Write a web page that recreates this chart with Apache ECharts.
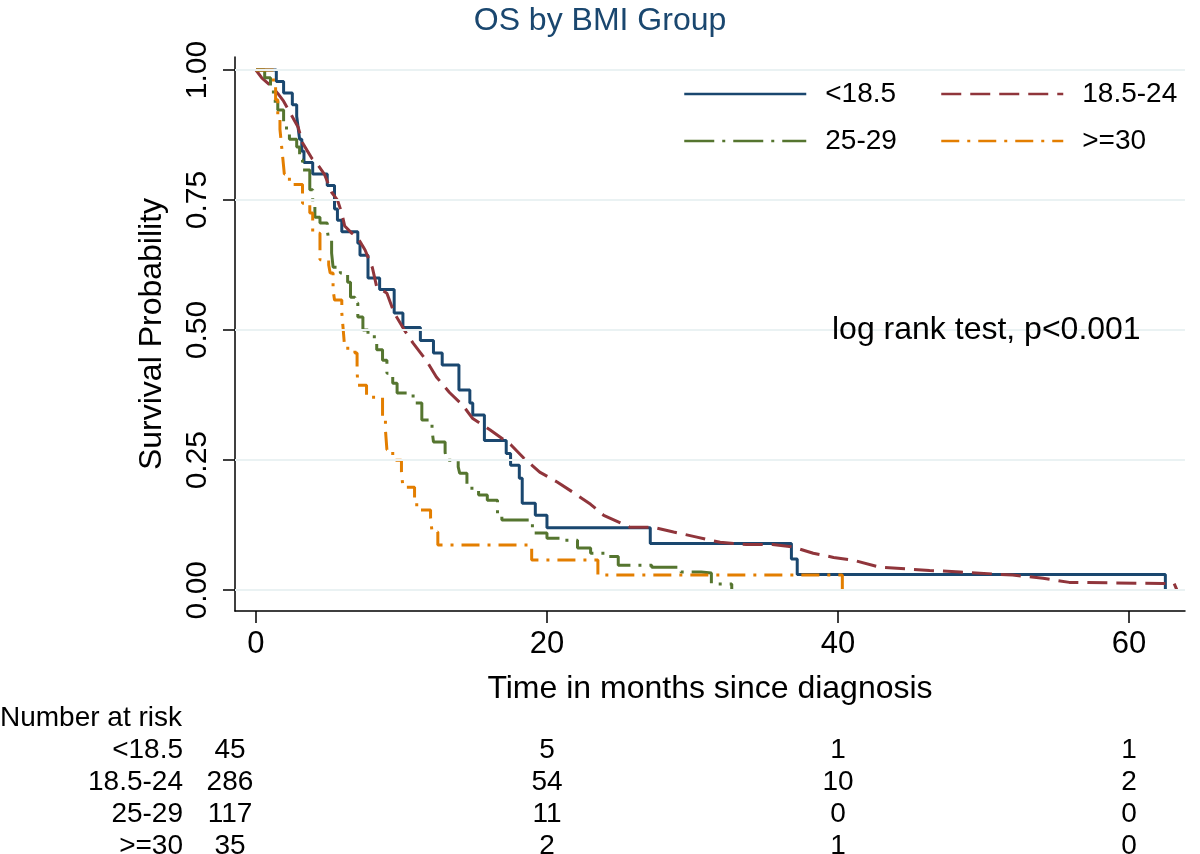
<!DOCTYPE html>
<html>
<head>
<meta charset="utf-8">
<script src="https://cdn.jsdelivr.net/npm/echarts@6/dist/echarts.min.js"></script>
<style>
html, body { margin: 0; padding: 0; background: #fff; }
#main { width: 1200px; height: 854px; }
</style>
</head>
<body>
<div id="main"></div>
<script>
// groups and colours (Stata s2color)
var groups = ['<18.5', '18.5-24', '25-29', '>=30'];
var colors = ['#1a476f', '#90353b', '#55752f', '#e37e00'];

// Kaplan-Meier estimates: time (months) / survival
var t1 = [0, 1.4, 1.9, 2.5, 2.8, 2.9, 3.0, 3.15, 3.3, 3.9, 4.9, 5.4, 5.6, 5.9, 7.0, 7.15, 7.7, 8.5, 9.5, 10.1,
          11.3, 12.2, 12.8, 13.95, 14.7, 14.9, 15.7, 17.2, 17.5, 18.1, 18.3, 19.2, 20.0, 27.1, 36.8, 37.2, 62.5];
var s1 = [1, 0.978, 0.956, 0.933, 0.911, 0.889, 0.867, 0.844, 0.822, 0.80, 0.778, 0.733, 0.711, 0.689, 0.667, 0.644, 0.60, 0.578, 0.533, 0.505,
          0.48, 0.456, 0.433, 0.385, 0.36, 0.337, 0.288, 0.263, 0.24, 0.215, 0.167, 0.144, 0.12, 0.09, 0.06, 0.03, 0];

var t2 = [0, 0.4, 1.0, 1.5, 1.9, 2.5, 2.9, 3.2, 3.5, 3.85, 4.2, 4.7, 5.2, 5.6, 5.9, 6.1, 6.6, 7.0, 7.5, 8.0,
          8.3, 9.0, 9.5, 10.2, 10.8, 11.7, 12.4, 13.3, 14.2, 14.9, 16.1, 17.5, 18.4, 19.5, 20.7, 21.8, 23.0, 23.9, 25.7, 27.3,
          28.7, 30.3, 31.9, 33.7, 35.5, 36.9, 38.3, 39.7, 41.0, 42.9, 46.3, 48.4, 52.0, 54.1, 55.9, 62.3, 63.1, 63.3];
var s2 = [1, 0.985, 0.97, 0.955, 0.94, 0.91, 0.89, 0.86, 0.846, 0.83, 0.82, 0.80, 0.765, 0.75, 0.725, 0.70, 0.686, 0.677, 0.654, 0.62,
          0.583, 0.571, 0.533, 0.50, 0.475, 0.442, 0.41, 0.38, 0.356, 0.33, 0.308, 0.28, 0.254, 0.227, 0.208, 0.188, 0.165, 0.144, 0.121, 0.121,
          0.112, 0.102, 0.092, 0.088, 0.088, 0.083, 0.071, 0.063, 0.058, 0.044, 0.038, 0.035, 0.029, 0.023, 0.015, 0.013, 0.013, 0];

var t3 = [0, 0.6, 1.0, 1.2, 1.5, 1.9, 2.1, 2.3, 2.8, 3.0, 3.2, 3.7, 3.9, 4.05, 4.4, 4.9, 5.0, 5.2, 5.3, 5.8,
          6.3, 6.5, 6.8, 7.0, 7.35, 7.7, 8.3, 8.7, 9.0, 9.4, 9.7, 10.8, 11.4, 12.1, 12.2, 13.0, 13.1, 13.9, 14.0, 14.5,
          15.3, 15.9, 16.6, 16.9, 19.0, 20.0, 21.2, 22.1, 23.0, 24.0, 24.9, 27.2, 29.2, 30.6, 31.3, 32.7];
var s3 = [1, 0.985, 0.967, 0.94, 0.923, 0.898, 0.879, 0.867, 0.852, 0.827, 0.808, 0.77, 0.737, 0.717, 0.706, 0.692, 0.673, 0.648, 0.621, 0.61,
          0.592, 0.563, 0.552, 0.525, 0.50, 0.487, 0.462, 0.442, 0.417, 0.398, 0.379, 0.36, 0.327, 0.308, 0.285, 0.265, 0.25, 0.237, 0.225, 0.196,
          0.183, 0.173, 0.148, 0.135, 0.11, 0.10, 0.096, 0.081, 0.071, 0.065, 0.048, 0.044, 0.035, 0.033, 0.012, 0];

var t4 = [0, 1.2, 1.35, 1.5, 1.65, 1.75, 1.85, 1.95, 2.3, 3.2, 3.7, 3.9, 4.4, 5.0, 5.1, 5.3, 5.4, 5.9, 6.0, 6.1,
          6.8, 6.95, 7.0, 7.6, 8.7, 8.9, 9.0, 9.4, 10.0, 10.1, 10.9, 11.05, 12.0, 12.1, 12.5, 18.95, 23.5, 40.3];
var s4 = [1, 0.971, 0.943, 0.914, 0.886, 0.857, 0.829, 0.80, 0.78, 0.744, 0.725, 0.686, 0.635, 0.625, 0.61, 0.577, 0.558, 0.533, 0.50, 0.465,
          0.456, 0.423, 0.394, 0.371, 0.333, 0.308, 0.27, 0.25, 0.227, 0.198, 0.173, 0.154, 0.14, 0.112, 0.087, 0.058, 0.029, 0];

var xTicks = [0, 20, 40, 60];
var yTicks = [0, 0.25, 0.5, 0.75, 1];

// number at risk table
var riskTimes = [0, 20, 40, 60];
var risk1 = [45, 5, 1, 1];
var risk2 = [286, 54, 10, 2];
var risk3 = [117, 11, 0, 0];
var risk4 = [35, 2, 1, 0];

var FONT = '"Liberation Sans", Arial, sans-serif';

function pairs(t, s) {
  return t.map(function (v, i) { return [v, s[i]]; });
}

var myChart = echarts.init(document.getElementById('main'));

var curveStyles = [
  { type: 'solid', step: 'end' },
  { type: [20, 9], step: false },
  { type: [30, 8, 3, 8], step: 'end' },
  { type: [18, 8, 3, 8], step: 'end' }
];
var curveData = [pairs(t1, s1), pairs(t2, s2), pairs(t3, s3), pairs(t4, s4)];

var series = [{
  // light gridlines
  name: 'grid',
  type: 'line',
  data: [],
  silent: true,
  z: 1,
  markLine: {
    silent: true,
    symbol: 'none',
    label: { show: false },
    lineStyle: { color: '#eaf2f3', width: 2, type: 'solid' },
    data: yTicks.map(function (v) { return { yAxis: v }; })
  }
}];

groups.forEach(function (g, i) {
  series.push({
    name: g,
    type: 'line',
    data: curveData[i],
    step: curveStyles[i].step,
    showSymbol: false,
    symbol: 'none',
    z: 3,
    lineStyle: { color: colors[i], width: 3, type: curveStyles[i].type },
    itemStyle: { color: colors[i] }
  });
});

var legendBase = {
  orient: 'vertical',
  top: 79,
  padding: 0,
  itemWidth: 122,
  itemHeight: 24,
  itemGap: 17,
  z: 10,
  selectedMode: false,
  textStyle: { fontFamily: FONT, fontSize: 28, lineHeight: 30, color: '#000', padding: [0, 0, 0, 14] },
  itemStyle: { opacity: 0 },
  lineStyle: { width: 2.5 }
};

var option = {
  animation: false,
  backgroundColor: '#fff',
  title: {
    text: 'OS by BMI Group',
    left: 'center',
    top: 0,
    textStyle: { fontFamily: FONT, fontSize: 32, fontWeight: 'normal', color: '#1a476f' }
  },
  legend: [
    Object.assign({}, legendBase, { left: 683, data: ['<18.5', '25-29'] }),
    Object.assign({}, legendBase, { left: 940, data: ['18.5-24', '>=30'] })
  ],
  grid: { left: 235, right: 15, top: 57, bottom: 243 },
  xAxis: {
    type: 'value',
    min: -1.44,
    max: 63.85,
    name: 'Time in months since diagnosis',
    nameLocation: 'middle',
    nameGap: 62,
    nameTextStyle: { fontFamily: FONT, fontSize: 32, color: '#000' },
    axisLine: { onZero: false, lineStyle: { color: '#000', width: 1.5 } },
    axisTick: { customValues: xTicks, length: 12, lineStyle: { color: '#000', width: 1.5 } },
    axisLabel: { customValues: xTicks, margin: 18, fontFamily: FONT, fontSize: 31, color: '#000' },
    splitLine: { show: false }
  },
  yAxis: {
    type: 'value',
    min: -0.04,
    max: 1.025,
    name: 'Survival Probability',
    nameLocation: 'middle',
    nameGap: 67,
    nameTextStyle: { fontFamily: FONT, fontSize: 32, color: '#000' },
    axisLine: { show: true, onZero: false, lineStyle: { color: '#000', width: 1.5 } },
    axisTick: { show: true, customValues: yTicks, length: 12, lineStyle: { color: '#000', width: 1.5 } },
    axisLabel: {
      customValues: yTicks, rotate: 90, margin: 22, fontFamily: FONT, fontSize: 30, color: '#000',
      formatter: function (v) { return v.toFixed(2); }
    },
    splitLine: { show: false }
  },
  graphic: [
    { type: 'rect', z: 5, shape: { x: 667, y: 58, width: 508, height: 108 }, style: { fill: '#fff' } },
    {
      type: 'text', left: 832, top: 314, z: 6,
      style: { text: 'log rank test, p<0.001', font: '32px ' + FONT, fill: '#000' }
    }
  ],
  series: series
};

myChart.setOption(option);

// risk table under the axis, columns placed on the time scale
var riskRows = [risk1, risk2, risk3, risk4];
var table = [{
  type: 'text', left: 0, top: 704,
  style: { text: 'Number at risk', font: '28px ' + FONT, fill: '#000' }
}];
riskRows.forEach(function (row, r) {
  var y = 750 + r * 32;
  table.push({
    type: 'text', x: 183, y: y,
    style: { text: groups[r], font: '28px ' + FONT, fill: '#000', align: 'right', verticalAlign: 'middle' }
  });
  row.forEach(function (n, c) {
    var px = myChart.convertToPixel({ xAxisIndex: 0 }, riskTimes[c]);
    if (c === 0) px -= 26; // first column sits just right of the row labels
    table.push({
      type: 'text', x: px, y: y,
      style: { text: String(n), font: '28px ' + FONT, fill: '#000', align: 'center', verticalAlign: 'middle' }
    });
  });
});
myChart.setOption({ graphic: option.graphic.concat(table) });
</script>
</body>
</html>
